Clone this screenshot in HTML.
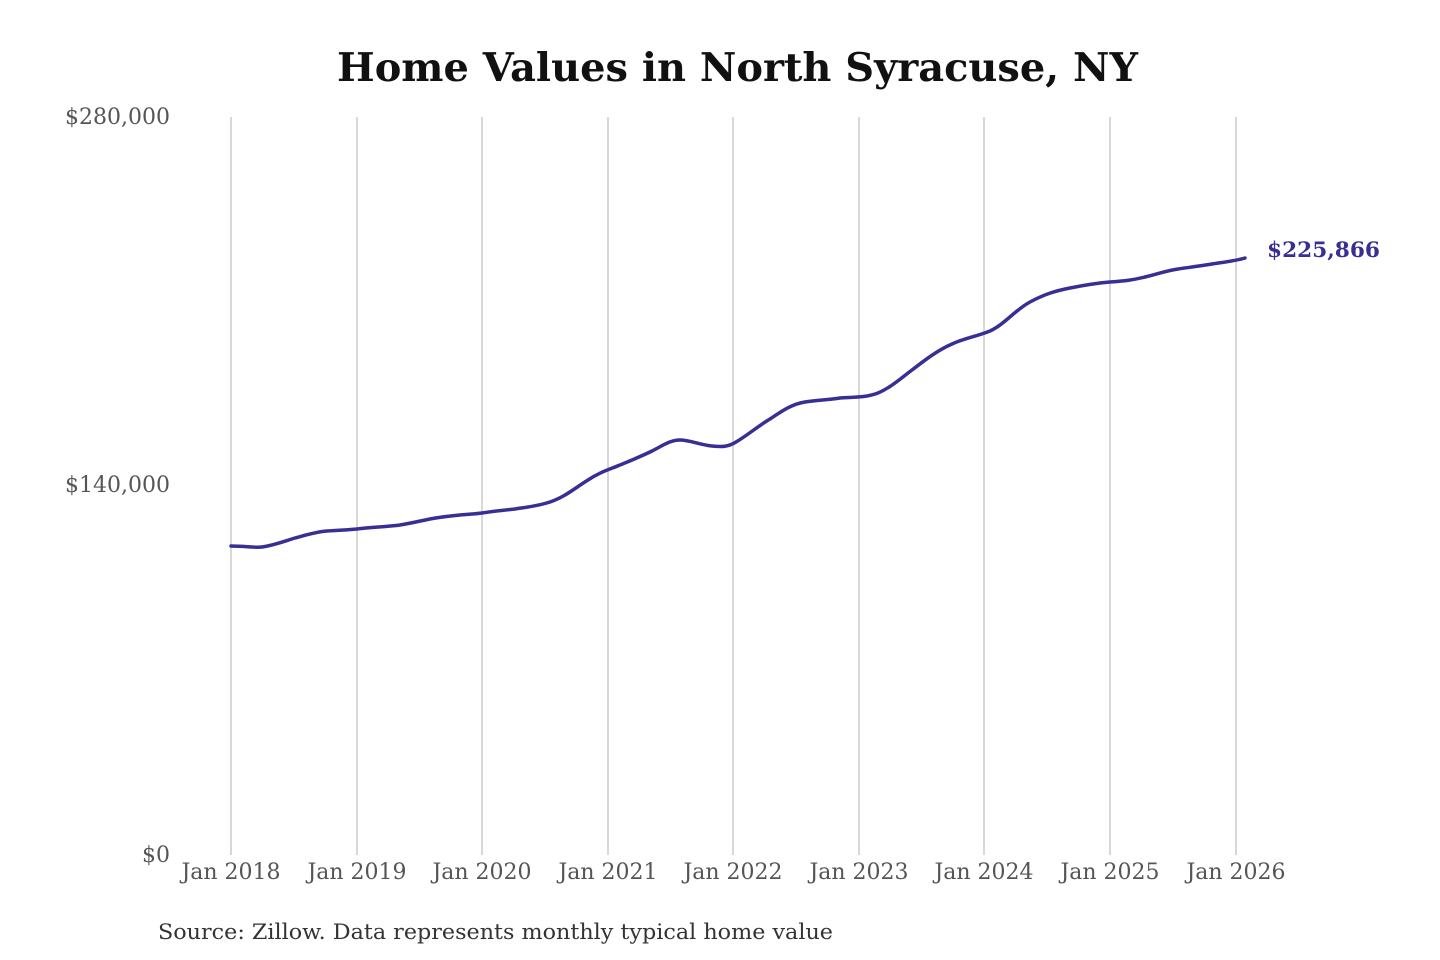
<!DOCTYPE html>
<html><head><meta charset="utf-8"><style>
html,body{margin:0;padding:0;background:#fff;}
svg{display:block;}
</style></head><body>
<svg width="1440" height="960" viewBox="0 0 1440 960" xmlns="http://www.w3.org/2000/svg">
<rect width="1440" height="960" fill="#fff"/>
<text x="337" y="81" textLength="801" lengthAdjust="spacingAndGlyphs" font-family="DejaVu Serif, Liberation Serif, serif" font-weight="bold" font-size="39" fill="#111">Home Values in North Syracuse, NY</text>
<g stroke="#c4c4c4" stroke-width="1.3">
<line x1="231" y1="117" x2="231" y2="855"/>
<line x1="357" y1="117" x2="357" y2="855"/>
<line x1="482" y1="117" x2="482" y2="855"/>
<line x1="608" y1="117" x2="608" y2="855"/>
<line x1="733" y1="117" x2="733" y2="855"/>
<line x1="859" y1="117" x2="859" y2="855"/>
<line x1="984" y1="117" x2="984" y2="855"/>
<line x1="1110" y1="117" x2="1110" y2="855"/>
<line x1="1236" y1="117" x2="1236" y2="855"/>
</g>
<g font-family="DejaVu Serif, Liberation Serif, serif" font-size="22" fill="#555">
<text x="170" y="124" text-anchor="end">$280,000</text>
<text x="170" y="492" text-anchor="end">$140,000</text>
<text x="170" y="862" text-anchor="end">$0</text>
<g text-anchor="middle">
<text x="231" y="879">Jan 2018</text>
<text x="357" y="879">Jan 2019</text>
<text x="482" y="879">Jan 2020</text>
<text x="608" y="879">Jan 2021</text>
<text x="733" y="879">Jan 2022</text>
<text x="859" y="879">Jan 2023</text>
<text x="984" y="879">Jan 2024</text>
<text x="1110" y="879">Jan 2025</text>
<text x="1236" y="879">Jan 2026</text>
</g>
</g>
<path d="M231,546 C245,546 255,548 262,547 C275,545 285,541 295,538 C306,535 315,532 327,531 C340,530 348,530 357,529 C372,527 385,527 400,525 C412,523 420,521 430,519 C440,517 450,516 460,515 C470,514 475,514 482,513 C495,511 505,510 515,509 C528,507 538,506 550,502 C565,497 575,488 588,480 C600,472 608,470 620,465 C632,460 642,456 652,451 C662,446 670,440 680,440 C690,440 700,445 712,446 C722,447 728,447 736,442 C748,435 758,426 770,419 C782,411 792,404 805,402 C818,400 828,400 840,398 C852,397 865,398 878,393 C890,388 900,379 912,370 C925,360 938,350 952,344 C965,338 975,337 990,331 C1005,324 1015,310 1030,302 C1045,294 1055,291 1070,288 C1085,285 1098,283 1110,282 C1125,281 1133,280 1145,277 C1158,274 1165,271 1178,269 C1192,267 1200,266 1212,264 C1225,262 1235,261 1245,258" fill="none" stroke="#372f93" stroke-width="3.5" stroke-linecap="round" stroke-linejoin="round"/>
<text x="1267" y="257" textLength="113" lengthAdjust="spacingAndGlyphs" font-family="DejaVu Serif, Liberation Serif, serif" font-weight="bold" font-size="21" fill="#372f93">$225,866</text>
<text x="158" y="939" textLength="675" lengthAdjust="spacingAndGlyphs" font-family="DejaVu Serif, Liberation Serif, serif" font-size="21" fill="#333">Source: Zillow. Data represents monthly typical home value</text>
</svg>
</body></html>
